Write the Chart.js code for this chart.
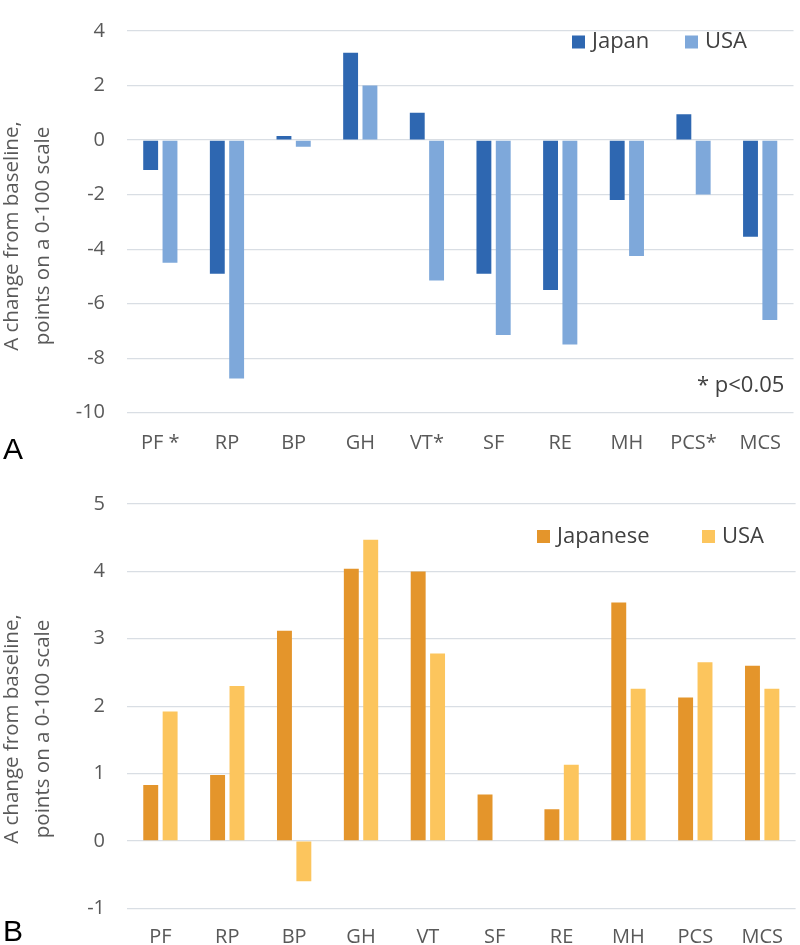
<!DOCTYPE html>
<html><head><meta charset="utf-8">
<script src="https://cdn.jsdelivr.net/npm/chart.js@4"></script>
<style>
body{margin:0;background:#fff;width:800px;height:945px;position:relative;overflow:hidden;font-family:"Open Sans"}
#wa{position:absolute;left:0;top:0;width:800px;height:468px}
#wb{position:absolute;left:0;top:468px;width:800px;height:477px}
.panel{position:absolute;left:3px;font:30px/30px "Liberation Sans";color:#000}
</style></head><body>
<div id="wa"><canvas id="ca"></canvas></div>
<div id="wb"><canvas id="cb"></canvas></div>
<div class="panel" style="top:434px">A</div>
<div class="panel" style="top:916px">B</div>
<script>
// ---- data ----
const categoriesA = ["PF *", "RP", "BP", "GH", "VT*", "SF", "RE", "MH", "PCS*", "MCS"];
const japanA = [-1.1, -4.9, 0.15, 3.2, 1.0, -4.9, -5.5, -2.2, 0.95, -3.55];
const usaA   = [-4.5, -8.75, -0.25, 2.0, -5.15, -7.15, -7.5, -4.25, -2.0, -6.6];
const ticksA = { min: -10, max: 4, step: 2 };

const categoriesB = ["PF", "RP", "BP", "GH", "VT", "SF", "RE", "MH", "PCS", "MCS"];
const japaneseB = [0.83, 0.98, 3.12, 4.04, 4.0, 0.69, 0.47, 3.54, 2.13, 2.6];
const usaB      = [1.92, 2.3, -0.6, 4.47, 2.78, 0, 1.13, 2.26, 2.65, 2.26];
const ticksB = { min: -1, max: 5, step: 1 };

const yTitleLines = ["A change from baseline,", "points on a 0-100 scale"];
const noteA = "* p<0.05";

// ---- plugin: axis title, legend inside plot, note ----
const extras = {
  id: 'extras',
  afterDraw(chart, args, o) {
    const ctx = chart.ctx;
    ctx.save();
    // y-axis title (two rotated lines)
    ctx.font = o.titleSize + 'px "Open Sans"';
    ctx.fillStyle = '#595959';
    ctx.textAlign = 'center';
    ctx.textBaseline = 'middle';
    o.titleLines.forEach((t, i) => {
      ctx.save();
      ctx.translate(o.titleXs[i], o.titleY);
      ctx.rotate(-Math.PI / 2);
      ctx.fillText(t, 0, 0);
      ctx.restore();
    });
    // legend
    ctx.font = o.size + 'px "Open Sans"';
    ctx.textAlign = 'left';
    chart.data.datasets.forEach((ds, i) => {
      const x = o.xs[i];
      ctx.fillStyle = ds.backgroundColor;
      ctx.fillRect(x, o.y - o.box / 2, o.box, o.box);
      ctx.fillStyle = o.color;
      ctx.fillText(ds.label, x + o.box + o.gap, o.y);
    });
    if (o.note) {
      ctx.fillStyle = o.color;
      ctx.fillText(o.note, o.noteX, o.noteY);
    }
    ctx.restore();
  }
};

function makeChart(id, cats, sets, tk, cfg) {
  return new Chart(document.getElementById(id), {
    type: 'bar',
    data: {
      labels: cats,
      datasets: sets.map(s => ({
        label: s.label, data: s.data, backgroundColor: s.color,
        categoryPercentage: 0.58, barPercentage: 0.77
      }))
    },
    options: {
      responsive: true, maintainAspectRatio: false, animation: false,
      layout: { padding: { top: cfg.top, right: 1, left: 0, bottom: 0 } },
      plugins: { legend: { display: false }, tooltip: { enabled: false }, extras: cfg.extras },
      scales: {
        x: {
          grid: { display: false, drawTicks: false },
          border: { display: false },
          ticks: { color: '#595959', font: { family: 'Open Sans', size: 20 }, padding: cfg.xpad, maxRotation: 0, autoSkip: false },
          afterFit(s) { s.height = cfg.xh; }
        },
        y: {
          min: tk.min, max: tk.max,
          grid: { color: '#d9dee4', lineWidth: 1.2, drawTicks: false },
          border: { display: false },
          ticks: { stepSize: tk.step, color: '#595959', padding: 22, font: { family: 'Open Sans', size: 20, lineHeight: 0.9 } },
          afterFit(s) { s.width = 127; }
        }
      }
    },
    plugins: [extras]
  });
}

makeChart('ca', categoriesA, [
  { label: 'Japan', data: japanA, color: '#2e67b1' },
  { label: 'USA', data: usaA, color: '#7ea8da' }
], ticksA, {
  top: 9.3, xh: 55.3, xpad: 19,
  extras: { titleLines: yTitleLines, titleSize: 20.5, titleXs: [12, 43], titleY: 236,
    xs: [572, 685], y: 42, box: 13, gap: 7, size: 22, color: '#404040', note: noteA, noteX: 697, noteY: 386 }
});

makeChart('cb', categoriesB, [
  { label: 'Japanese', data: japaneseB, color: '#e4952b' },
  { label: 'USA', data: usaB, color: '#fcc55d' }
], ticksB, {
  top: 36, xh: 36.7, xpad: 17,
  extras: { titleLines: yTitleLines, titleSize: 20.5, titleXs: [12, 43], titleY: 261,
    xs: [537, 702], y: 68.5, box: 13, gap: 7, size: 22, color: '#404040' }
});
</script>
</body></html>
